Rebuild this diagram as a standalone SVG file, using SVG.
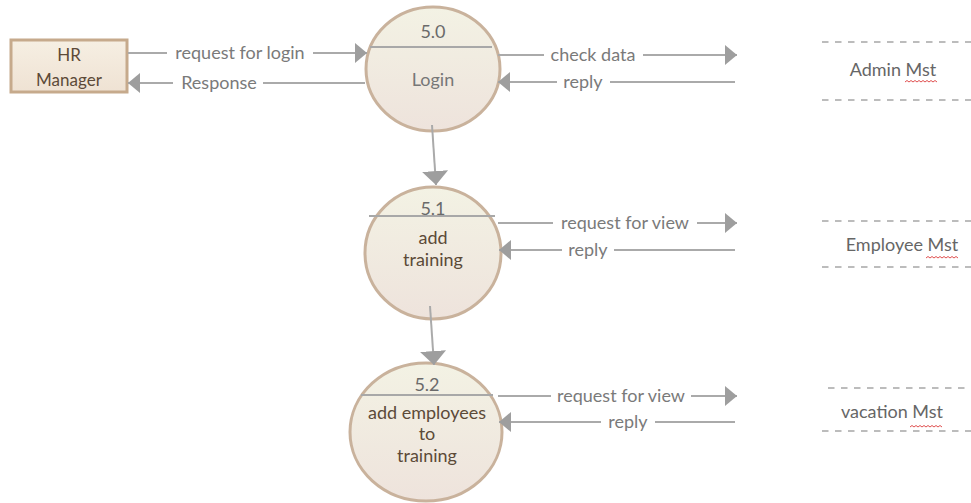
<svg xmlns="http://www.w3.org/2000/svg" width="971" height="503" viewBox="0 0 971 503">
<defs>
<linearGradient id="pg" x1="0" y1="0" x2="0" y2="1">
<stop offset="0" stop-color="#f3f2e4"/>
<stop offset="1" stop-color="#eee3dc"/>
</linearGradient>
<linearGradient id="bg" x1="0" y1="0" x2="0" y2="1">
<stop offset="0" stop-color="#f6efe3"/>
<stop offset="1" stop-color="#efe2d3"/>
</linearGradient>
<marker id="ah" viewBox="0 0 12 20" refX="12" refY="10" markerWidth="12" markerHeight="20" markerUnits="userSpaceOnUse" orient="auto">
<path d="M0,0 L12,10 L0,20 Z" fill="#9e9e9e"/>
</marker>
<marker id="ahv" viewBox="0 0 14 26" refX="14" refY="13" markerWidth="14" markerHeight="26" markerUnits="userSpaceOnUse" orient="auto">
<path d="M0,0 L14,13 L0,26 Z" fill="#9e9e9e"/>
</marker>
</defs>
<style>
.proc{fill:url(#pg);stroke:#c9b29c;stroke-width:3}
.div{stroke:#a8a8a8;stroke-width:2}
text{font-family:Lato,"Open Sans",sans-serif;font-size:18px;text-anchor:middle}
.num{fill:#6a6a6a}
.pt{fill:#5c4a38}
.pg{fill:#777}
.lbl{fill:#7a7a7a}
.ln{stroke:#aaaaaa;stroke-width:2;fill:none}
.store{stroke:#bcbcbc;stroke-width:2;stroke-dasharray:6.5 6.5}
.st{fill:#666}
.sq{stroke:#e05050;stroke-width:1;fill:none}
</style>

<g id="hr-manager">
<rect x="11" y="40" width="116" height="52" fill="url(#bg)" stroke="#c6aa8c" stroke-width="3"/>
<text class="pt" x="69" y="61" style="font-size:17px">HR</text>
<text class="pt" x="69" y="86" style="font-size:17px">Manager</text>
</g>

<g id="p50">
<ellipse class="proc" cx="433" cy="69" rx="67" ry="62"/>
<line class="div" x1="370" y1="47" x2="492" y2="47"/>
<text class="num" x="433" y="38">5.0</text>
<text class="pg" x="433" y="86">Login</text>
</g>

<g id="p51">
<ellipse class="proc" cx="433" cy="253" rx="68" ry="66"/>
<line class="div" x1="369" y1="216" x2="495" y2="216"/>
<text class="num" x="433" y="215">5.1</text>
<text class="pt" x="433" y="244">add</text>
<text class="pt" x="433" y="266">training</text>
</g>

<g id="p52">
<ellipse class="proc" cx="426" cy="432" rx="76" ry="69"/>
<line class="div" x1="361" y1="395" x2="493" y2="395"/>
<text class="num" x="427" y="391">5.2</text>
<text class="pt" x="427" y="419">add employees</text>
<text class="pt" x="427" y="440">to</text>
<text class="pt" x="427" y="462">training</text>
</g>

<g id="admin-mst">
<line class="store" x1="822" y1="42" x2="971" y2="42"/>
<line class="store" x1="822" y1="100" x2="971" y2="100"/>
<text class="st" x="893" y="76">Admin Mst</text>
<path class="sq" d="M905,82 l2,-1.5 l2,1.5 l2,-1.5 l2,1.5 l2,-1.5 l2,1.5 l2,-1.5 l2,1.5 l2,-1.5 l2,1.5 l2,-1.5 l2,1.5 l2,-1.5 l2,1.5 l2,-1.5 l2,1.5"/>
</g>

<g id="employee-mst">
<line class="store" x1="822" y1="221" x2="971" y2="221"/>
<line class="store" x1="822" y1="267" x2="971" y2="267"/>
<text class="st" x="902" y="251">Employee Mst</text>
<path class="sq" d="M926,258 l2,-1.5 l2,1.5 l2,-1.5 l2,1.5 l2,-1.5 l2,1.5 l2,-1.5 l2,1.5 l2,-1.5 l2,1.5 l2,-1.5 l2,1.5 l2,-1.5 l2,1.5 l2,-1.5 l2,1.5"/>
</g>

<g id="vacation-mst">
<line class="store" x1="828" y1="388" x2="971" y2="388"/>
<line class="store" x1="822" y1="431" x2="971" y2="431"/>
<text class="st" x="892" y="418">vacation Mst</text>
<path class="sq" d="M910,427 l2,-1.5 l2,1.5 l2,-1.5 l2,1.5 l2,-1.5 l2,1.5 l2,-1.5 l2,1.5 l2,-1.5 l2,1.5 l2,-1.5 l2,1.5 l2,-1.5 l2,1.5 l2,-1.5 l2,1.5"/>
</g>

<g id="connectors">
<path class="ln" d="M128,53 H167 M313,53 H367" marker-end="url(#ah)"/>
<text class="lbl" x="240" y="59">request for login</text>
<path class="ln" d="M365,83 H263 M173,83 H128" marker-end="url(#ah)"/>
<text class="lbl" x="219" y="89">Response</text>

<path class="ln" d="M498,55 H544 M643,55 H737" marker-end="url(#ah)"/>
<text class="lbl" x="593" y="61">check data</text>
<path class="ln" d="M735,82 H610 M557,82 H498" marker-end="url(#ah)"/>
<text class="lbl" x="583" y="88">reply</text>

<path class="ln" d="M498,223 H553 M697,223 H737" marker-end="url(#ah)"/>
<text class="lbl" x="625" y="229">request for view</text>
<path class="ln" d="M735,250 H614 M562,250 H499" marker-end="url(#ah)"/>
<text class="lbl" x="588" y="256">reply</text>

<path class="ln" d="M498,396 H551 M691,396 H737" marker-end="url(#ah)"/>
<text class="lbl" x="621" y="402">request for view</text>
<path class="ln" d="M735,422 H655 M601,422 H499" marker-end="url(#ah)"/>
<text class="lbl" x="628" y="428">reply</text>

<path class="ln" d="M432,125 L436,185" marker-end="url(#ahv)"/>
<path class="ln" d="M430,306 L434,365" marker-end="url(#ahv)"/>
</g>
</svg>
